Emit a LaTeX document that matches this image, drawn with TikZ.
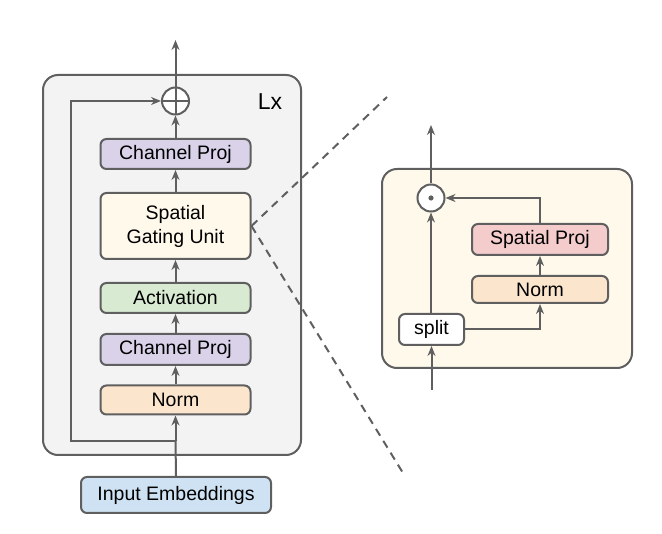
\documentclass[tikz,border=0pt]{standalone}
\usepackage{fontspec}
\setmainfont{Liberation Sans}
\usetikzlibrary{arrows.meta}
\definecolor{linegray}{HTML}{5F5F5F}
\definecolor{layerbg}{HTML}{F3F3F3}
\definecolor{gatebg}{HTML}{FFF9EC}
\definecolor{projcol}{HTML}{D9D2E9}
\definecolor{actcol}{HTML}{D9EAD3}
\definecolor{normcol}{HTML}{FCE5CD}
\definecolor{embcol}{HTML}{CFE2F3}
\definecolor{spcol}{HTML}{F4CCCC}
\begin{document}
\begin{tikzpicture}[x=1pt, y=-1pt, line width=2pt, draw=linegray]
    \tikzstyle{flow}=[draw=linegray, line width=2pt, -{Stealth[length=10pt,width=8pt]}]
    \tikzstyle{blk}=[draw=linegray, line width=2pt, rounded corners=6pt, inner sep=0pt, minimum height=30pt, font=\fontsize{19.5}{24}\selectfont, align=center]
    \tikzstyle{op}=[draw=linegray, line width=2pt, circle, fill=white, minimum size=27pt, inner sep=0pt]
    \tikzstyle{zoomline}=[draw=linegray, line width=2pt, dash pattern=on 8pt off 6pt]

    \useasboundingbox (0,0) rectangle (662,534);

    % layer box and gating box
    \draw[fill=layerbg, rounded corners=15pt] (43,75) rectangle (301,455);
    \draw[fill=gatebg, rounded corners=15pt] (382,169) rectangle (632,368);
    \node[font=\fontsize{23}{27}\selectfont] (lx) at (270,102) {Lx};

    % left column
    \node[op] (add) at (175.5,101) {};
    \draw (add.north) -- (add.south) (add.west) -- (add.east);
    \node[blk, fill=projcol, minimum width=150pt] (cpb) at (175.5,154) {Channel Proj};
    \node[blk, fill=gatebg, minimum width=150pt, minimum height=66pt] (sgu) at (175.5,226) {Spatial\\Gating Unit};
    \node[blk, fill=actcol, minimum width=150pt] (act) at (175.5,298) {Activation};
    \node[blk, fill=projcol, minimum width=150pt, minimum height=31pt] (cpa) at (175.5,349.5) {Channel Proj};
    \node[blk, fill=normcol, minimum width=150pt, minimum height=29pt] (norm) at (175.5,400) {Norm};
    \node[blk, fill=embcol, minimum width=190pt, minimum height=36pt] (emb) at (176,495) {Input Embeddings};

    \coordinate (out) at (175.5,40);
    \coordinate (fork) at (175.5,441);
    \coordinate (skipb) at (71,441);
    \coordinate (skipt) at (71,101);

    \draw[line width=2pt] (emb.north) -- (fork);
    \draw[flow] (fork) -- (norm.south);
    \draw[flow] (fork) -- (skipb) -- (skipt) -- (add.west);
    \draw[flow] (norm) -- (cpa);
    \draw[flow] (cpa) -- (act);
    \draw[flow] (act) -- (sgu);
    \draw[flow] (sgu) -- (cpb);
    \draw[flow] (cpb) -- (add);
    \draw[flow] (add) -- (out);

    % right column
    \node[op] (mul) at (431,198) {};
    \fill[linegray] (mul) circle (2.6pt);
    \node[blk, fill=white, minimum width=65pt, minimum height=31pt] (split) at (431.5,329.5) {split};
    \node[blk, fill=normcol, minimum width=136pt, minimum height=27pt] (gnorm) at (540,289.5) {Norm};
    \node[blk, fill=spcol, minimum width=136pt, minimum height=31pt] (sproj) at (540,239.5) {Spatial Proj};

    \coordinate (gin) at (431.5,390);
    \coordinate (gout) at (431,125);

    \draw[flow] (gin) -- (split.south);
    \draw[flow] (split.north -| mul) -- (mul.south);
    \draw[flow] (split.east) -| (gnorm.south);
    \draw[flow] (gnorm) -- (sproj);
    \draw[flow] (sproj.north) |- (mul.east);
    \draw[flow] (mul) -- (gout);

    % zoom lines
    \coordinate (zup) at (387,97);
    \coordinate (zdown) at (403,473);
    \draw[zoomline] (sgu.east) -- (zup);
    \draw[zoomline] (sgu.east) -- (zdown);
\end{tikzpicture}
\end{document}
